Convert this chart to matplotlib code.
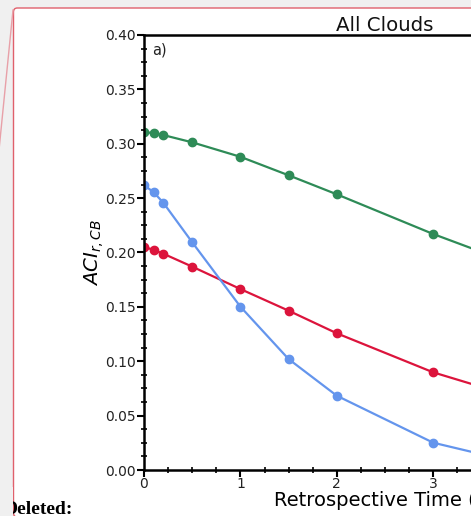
import matplotlib
matplotlib.use('Agg')
import matplotlib.pyplot as plt
from matplotlib.patches import FancyBboxPatch, Rectangle
from matplotlib.lines import Line2D
from matplotlib.ticker import MultipleLocator, AutoMinorLocator

# retrospective time (h) and ACI for the three cases
hours = [0, 0.1, 0.2, 0.5, 1, 1.5, 2, 3, 4]
aci_green = [0.311, 0.3096, 0.308, 0.3013, 0.288, 0.271, 0.2535, 0.217, 0.184]
aci_red = [0.2053, 0.2023, 0.1989, 0.187, 0.1664, 0.1465, 0.1257, 0.0898, 0.063]
aci_blue = [0.262, 0.2554, 0.2458, 0.2094, 0.1502, 0.102, 0.0683, 0.0251, 0.004]

W, H = 471, 516
bg = '#f0f0f0'
fig = plt.figure(figsize=(W / 100, H / 100), dpi=100)
fig.patch.set_facecolor(bg)

# comment box and connector, in pixel units
def px(x, y):
    return x / W, 1 - y / H

box = FancyBboxPatch(px(13.5, 517), (520 - 13.5) / W, (517 - 8) / H,
                     boxstyle='round,pad=0,rounding_size=0.008',
                     transform=fig.transFigure, facecolor='white',
                     edgecolor='#e0606c', linewidth=1.0, zorder=-2)
fig.patches.append(box)
x0, y0 = px(13, 10)
x1, y1 = px(-2, 160)
fig.lines.append(Line2D([x0, x1], [y0, y1], transform=fig.transFigure,
                        color='#e8a0a8', linewidth=1.0, zorder=-1))

fig.text(px(4, 0)[0], px(0, 514)[1], 'Deleted:', family='Liberation Serif',
         weight='bold', fontsize=14, color='black', va='baseline', zorder=3)
# the text sits inside the box, so hide what falls left of its edge
fig.patches.append(Rectangle(px(0, 517), 13 / W, 30 / H,
                             transform=fig.transFigure, facecolor=bg,
                             edgecolor='none', zorder=4))

ax_left, ax_right, ax_top, ax_bot = 144, 626, 35, 470
ax = fig.add_axes([ax_left / W, 1 - ax_bot / H,
                   (ax_right - ax_left) / W, (ax_bot - ax_top) / H])

kw = dict(marker='o', markersize=6, linewidth=1.6)
ax.plot(hours, aci_green, color='seagreen', **kw)
ax.plot(hours, aci_red, color='crimson', **kw)
ax.plot(hours, aci_blue, color='cornflowerblue', **kw)

ax.set_xlim(0, 5)
ax.set_ylim(0, 0.40)
ax.xaxis.set_major_locator(MultipleLocator(1))
ax.xaxis.set_minor_locator(AutoMinorLocator(4))
ax.yaxis.set_major_locator(MultipleLocator(0.05))
ax.yaxis.set_minor_locator(AutoMinorLocator(4))
ax.yaxis.set_major_formatter(plt.FormatStrFormatter('%.2f'))

for s in ax.spines.values():
    s.set_linewidth(1.8)
ax.tick_params(which='major', direction='out', length=5, width=1.5,
               labelsize=10, pad=1, colors='black', labelcolor='#222222')
ax.tick_params(which='minor', direction='inout', length=5, width=1.2)
ax.tick_params(axis='x', which='major', pad=0)

ax.set_title('All Clouds', fontsize=14.2, pad=2, color='#111111')
ax.set_xlabel('Retrospective Time (h)', fontsize=14, labelpad=0)
ax.set_ylabel(r'$ACI_{r,CB}$', fontsize=14.2, labelpad=-1)
ax.text(0.017, 0.982, 'a)', transform=ax.transAxes, fontsize=10.5,
        va='top', ha='left', color='#222222')

fig.savefig('out.png', dpi=100, facecolor=fig.get_facecolor())
